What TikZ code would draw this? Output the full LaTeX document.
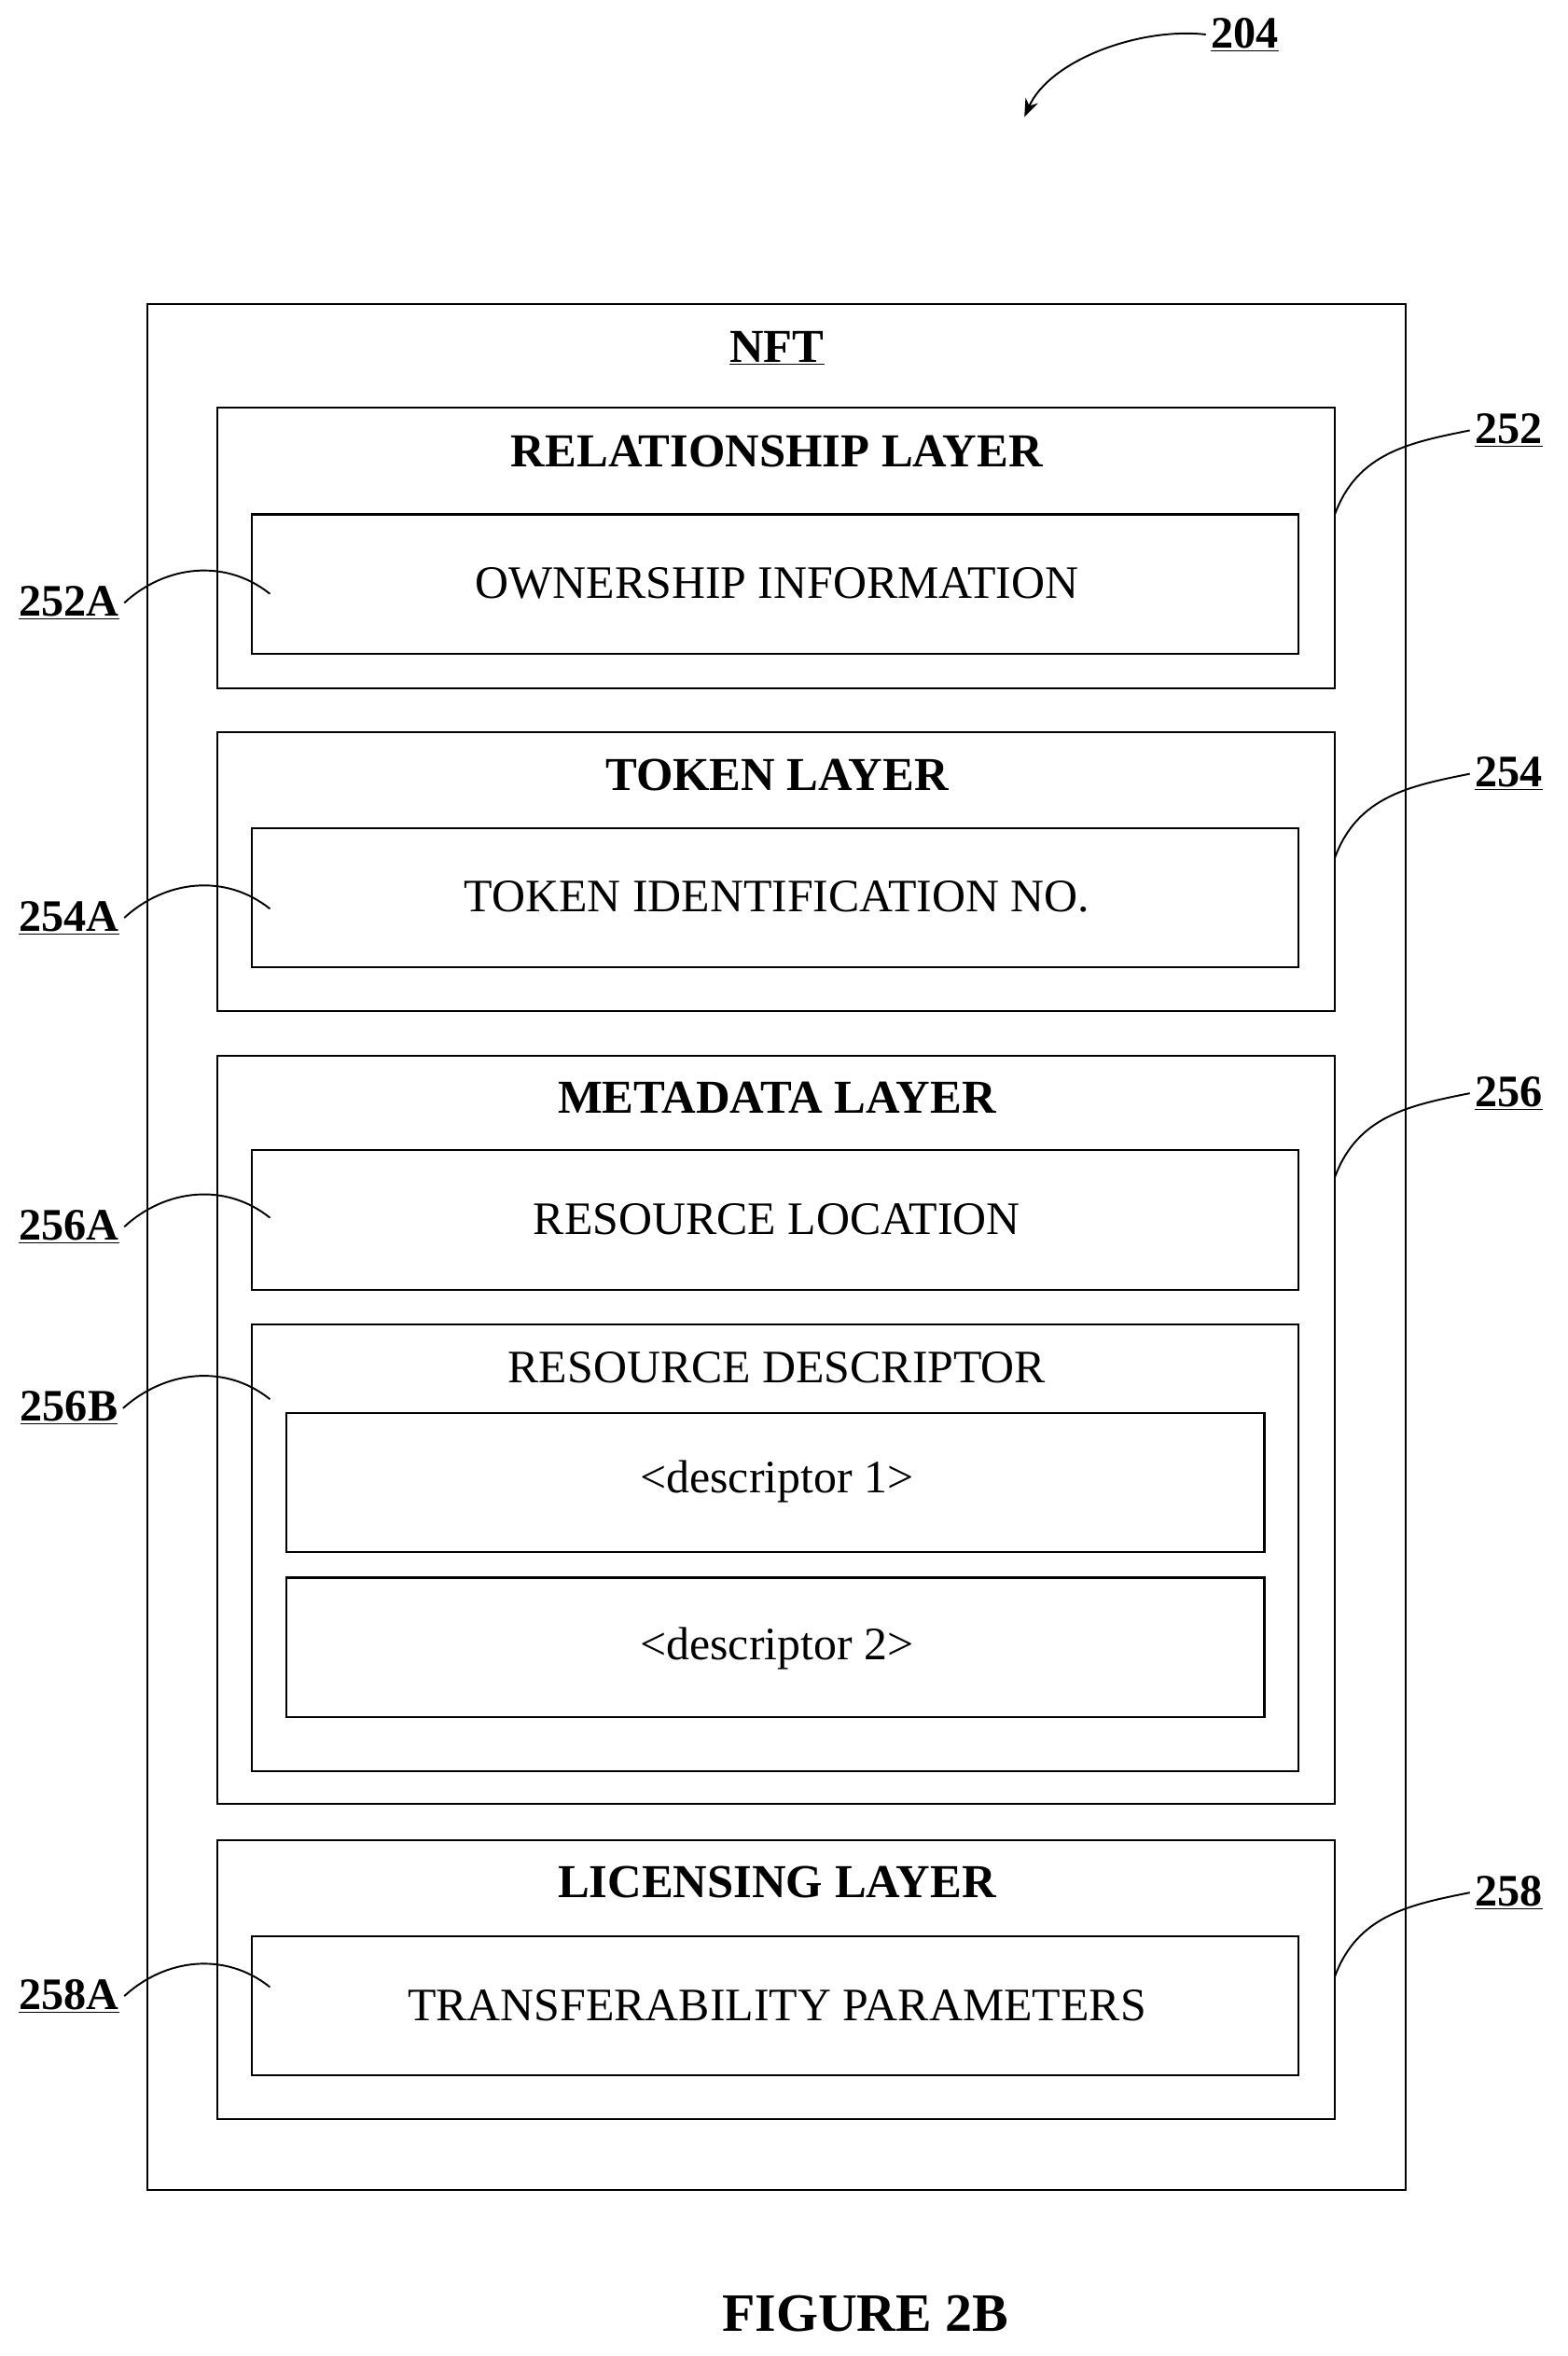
\documentclass[tikz,border=0pt]{standalone}
\usepackage{fontspec}
\setmainfont{Liberation Serif}
\usetikzlibrary{arrows.meta}
\begin{document}
\begin{tikzpicture}[x=1pt,y=-1pt,
 box/.style={draw,line width=1.3pt},
 ttl/.style={font=\fontsize{31.5}{34}\selectfont\bfseries},
 txt/.style={font=\fontsize{31}{34}\selectfont},
 ref/.style={font=\fontsize{30}{33}\selectfont\bfseries},
 lead/.style={line width=1.2pt}]
\useasboundingbox (0,0) rectangle (1045,1571);
\draw[box] (98,203) rectangle (937,1460);
\node[ttl] (nft) at (518,232) {\underline{NFT}};
% relationship
\draw[box] (145,272) rectangle (890,459);
\node[ttl] (rl) at (518,301) {RELATIONSHIP LAYER};
\draw[box] (168,343) rectangle (866,436);
\node[txt] (oi) at (518,389) {OWNERSHIP INFORMATION};
% token
\draw[box] (145,488) rectangle (890,674);
\node[ttl] (tl) at (518,517) {TOKEN LAYER};
\draw[box] (168,552) rectangle (866,645);
\node[txt] (ti) at (518,598) {TOKEN IDENTIFICATION NO.};
% metadata
\draw[box] (145,704) rectangle (890,1203);
\node[ttl] (ml) at (518,732) {METADATA LAYER};
\draw[box] (168,767) rectangle (866,860);
\node[txt] (rloc) at (518,813) {RESOURCE LOCATION};
\draw[box] (168,883) rectangle (866,1181);
\node[txt] (rd) at (518,912) {RESOURCE DESCRIPTOR};
\draw[box] (191,942) rectangle (843,1035);
\node[txt] (d1) at (518,988) {<descriptor 1>};
\draw[box] (191,1052) rectangle (843,1145);
\node[txt] (d2) at (518,1099) {<descriptor 2>};
% licensing
\draw[box] (145,1227) rectangle (890,1413);
\node[ttl] (ll) at (518,1255) {LICENSING LAYER};
\draw[box] (168,1291) rectangle (866,1384);
\node[txt] (tp) at (518,1337) {TRANSFERABILITY PARAMETERS};
% figure label
\node[font=\fontsize{36}{40}\selectfont\bfseries] (fig) at (577,1543) {FIGURE 2B};
% 204
\node[ref] (r204) at (830,23) {\underline{204}};
\coordinate (a204) at (683,78);
\draw[lead,-{Stealth[length=12pt,width=9pt]}] (r204.west) .. controls (760,18) and (700,40) .. (a204);
% right refs
\foreach \n/\y in {252/287,254/516,256/729,258/1262}{
  \node[ref] (r\n) at (1006,\y) {\underline{\n}};
  \coordinate (c\n) at (890,\y+56);
  \draw[lead] (c\n) .. controls (905,\y+15) and (940,\y+8) .. (r\n.west);
}
% left refs
\foreach \n/\y/\t in {252A/402/180,254A/612/180,256A/818/180,256B/939/180,258A/1331/180}{
  \node[ref] (l\n) at (46,\y) {\underline{\n}};
  \coordinate (e\n) at (\t,\y-6);
  \draw[lead] (l\n.east) .. controls (110,\y-25) and (150,\y-30) .. (e\n);
}
\end{tikzpicture}
\end{document}
